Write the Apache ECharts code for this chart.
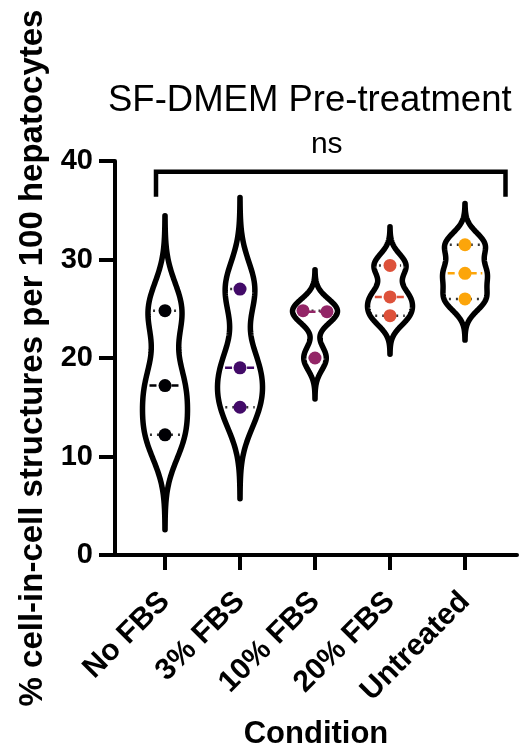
<!DOCTYPE html>
<html><head><meta charset="utf-8">
<script src="https://cdn.jsdelivr.net/npm/echarts@6/dist/echarts.min.js"></script>
<style>html,body{margin:0;padding:0;background:#fff}#c{width:529px;height:755px}</style>
</head><body><div id="c"></div>
<script>
// ---- data ----
const categories = ['No FBS', '3% FBS', '10% FBS', '20% FBS', 'Untreated'];
const noFBS     = [24.8, 17.2, 12.2];
const fbs3      = [27.0, 19.0, 15.0];
const fbs10     = [24.8, 24.7, 20.0];
const fbs20     = [29.4, 26.2, 24.3];
const untreated = [31.5, 28.6, 26.0];
const groups = [noFBS, fbs3, fbs10, fbs20, untreated];
const groupColors = ['#000004', '#420a68', '#932667', '#dd513a', '#fca50a'];
const yTickValues = [0, 10, 20, 30, 40];
const significanceLabel = 'ns';
const titleText = 'SF-DMEM Pre-treatment';
const yTitle = '% cell-in-cell structures per 100 hepatocytes';
const xTitle = 'Condition';

// ---- style constants ----
const FONT = "'Liberation Sans', Arial, Helvetica, sans-serif";
const BW_FACTOR = 0.45;   // kernel bandwidth relative to SD
const EXTENT = 1.52;      // violin extends this many SD beyond data
const HALF_W = 22.5;      // max violin half width, px
const DOT_R = 6.5;
const DOT_SPREAD = 24;    // px between overlapping dots

function sdOf(a) {
  const m = a.reduce((s, v) => s + v, 0) / a.length;
  return Math.sqrt(a.reduce((s, v) => s + (v - m) * (v - m), 0) / (a.length - 1));
}
function prismPct(sorted, p) {
  const n = sorted.length, pos = p * (n + 1);
  if (pos <= 1) return sorted[0];
  if (pos >= n) return sorted[n - 1];
  const i = Math.floor(pos), f = pos - i;
  return sorted[i - 1] + f * (sorted[i] - sorted[i - 1]);
}
function profileOf(vals) {
  const s = sdOf(vals), h = BW_FACTOR * s;
  const lo = Math.min(...vals) - EXTENT * s, hi = Math.max(...vals) + EXTENT * s;
  const dens = v => vals.reduce((acc, x) => acc + Math.exp(-(v - x) * (v - x) / (2 * h * h)), 0);
  const N = 200, samples = [];
  let mx = 0;
  for (let i = 0; i <= N; i++) {
    const v = lo + (hi - lo) * i / N, d = dens(v);
    samples.push([v, d]); if (d > mx) mx = d;
  }
  samples.forEach(p => p[1] /= mx);
  const sorted = vals.slice().sort((a, b) => a - b);
  return {
    samples, f: v => dens(v) / mx,
    q1: prismPct(sorted, 0.25), med: prismPct(sorted, 0.5), q3: prismPct(sorted, 0.75)
  };
}
const profiles = groups.map(profileOf);

// dot positions with simple spreading of overlapping values
const dotData = [];
groups.forEach((vals, gi) => {
  const used = new Array(vals.length).fill(false);
  vals.forEach((v, i) => {
    if (used[i]) return;
    const cluster = [i];
    vals.forEach((w, j) => { if (j !== i && !used[j] && Math.abs(w - v) < 1.3) cluster.push(j); });
    cluster.forEach((j, k) => {
      used[j] = true;
      dotData.push([gi, vals[j], (k - (cluster.length - 1) / 2) * DOT_SPREAD]);
    });
  });
});

const chart = echarts.init(document.getElementById('c'), null, { renderer: 'canvas', width: 529, height: 755 });

const option = {
  backgroundColor: '#fff',
  animation: false,
  title: {
    text: titleText, left: 103, top: 77,
    textStyle: { fontFamily: FONT, fontWeight: 'normal', fontSize: 36.5, color: '#000' }
  },
  grid: { left: 115, right: 12, top: 161, bottom: 193, containLabel: false },
  xAxis: {
    type: 'value', min: -0.6667, max: 4.6933,
    name: xTitle, nameLocation: 'middle', nameGap: 164,
    nameTextStyle: { fontFamily: FONT, fontWeight: 'bold', fontSize: 31, color: '#000' },
    axisLine: { show: true, onZero: false, lineStyle: { color: '#000', width: 4 } },
    axisTick: { show: true, customValues: [0, 1, 2, 3, 4], length: 15, inside: false, lineStyle: { color: '#000', width: 4 } },
    axisLabel: {
      customValues: [0, 1, 2, 3, 4], formatter: v => categories[Math.round(v)],
      rotate: 45, margin: 42, fontFamily: FONT, fontWeight: 'bold', fontSize: 30, color: '#000'
    },
    splitLine: { show: false }
  },
  yAxis: {
    type: 'value', min: 0, max: 40, interval: 10,
    name: yTitle, nameLocation: 'middle', nameRotate: 90, nameGap: 62,
    nameTextStyle: { fontFamily: FONT, fontWeight: 'bold', fontSize: 33, color: '#000' },
    axisLine: { show: true, onZero: false, lineStyle: { color: '#000', width: 4 } },
    axisTick: { show: true, length: 16, lineStyle: { color: '#000', width: 4 } },
    axisLabel: {
      customValues: yTickValues,
      margin: 22, fontFamily: FONT, fontWeight: 'bold', fontSize: 29, color: '#000'
    },
    splitLine: { show: false }
  },
  series: [
    {
      type: 'custom', name: 'violins', z: 2, clip: false,
      data: groups.map((g, i) => [i]),
      renderItem: function (params, api) {
        const gi = api.value(0), prof = profiles[gi];
        const left = [], right = [];
        prof.samples.forEach(([v, d]) => {
          const p = api.coord([gi, v]);
          left.push([p[0] - d * HALF_W, p[1]]);
          right.push([p[0] + d * HALF_W, p[1]]);
        });
        const poly = left.concat(right.reverse());
        const children = [{
          type: 'polygon', shape: { points: poly },
          style: { fill: '#fff', stroke: '#000', lineWidth: 5.5, lineJoin: 'round' }
        }];
        [prof.q1, prof.q3].forEach(q => {
          const p = api.coord([gi, q]); const w = Math.max(prof.f(q) * HALF_W - 5, 0);
          children.push({ type: 'line', shape: { x1: p[0] - w, y1: p[1], x2: p[0] + w, y2: p[1] },
            style: { stroke: '#333', lineWidth: 2.5, lineDash: [2, 5] } });
        });
        const pm = api.coord([gi, prof.med]); const wm = Math.max(prof.f(prof.med) * HALF_W - 5, 0);
        children.push({ type: 'line', shape: { x1: pm[0] - wm, y1: pm[1], x2: pm[0] + wm, y2: pm[1] },
          style: { stroke: groupColors[gi], lineWidth: 2.5, lineDash: [7, 4] } });
        return { type: 'group', children };
      }
    },
    {
      type: 'custom', name: 'points', z: 3, clip: false,
      data: dotData,
      renderItem: function (params, api) {
        const gi = api.value(0), p = api.coord([gi, api.value(1)]);
        return { type: 'circle', shape: { cx: p[0] + api.value(2), cy: p[1], r: DOT_R },
          style: { fill: groupColors[gi] } };
      }
    },
    {
      type: 'custom', name: 'bracket', z: 4, clip: false,
      data: [[0, categories.length - 1]],
      renderItem: function (params, api) {
        const a = api.coord([api.value(0) - 0.12, 38.9]);
        const b = api.coord([api.value(1) + 0.54, 38.9]);
        const legDrop = 25;
        return { type: 'group', children: [
          { type: 'polyline', shape: { points: [[a[0], a[1] + legDrop], a, b, [b[0], b[1] + legDrop]] },
            style: { stroke: '#000', lineWidth: 4.5, fill: null, lineJoin: 'miter' } },
          { type: 'text', x: (a[0] + b[0]) / 2 - 4, y: a[1] - 12,
            style: { text: significanceLabel, fontFamily: FONT, fontSize: 30, fill: '#000', align: 'center', verticalAlign: 'bottom' } }
        ] };
      }
    }
  ]
};
chart.setOption(option);
</script></body></html>
